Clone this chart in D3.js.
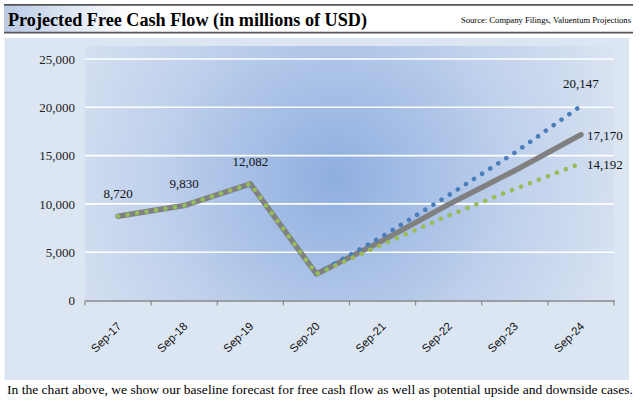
<!DOCTYPE html>
<html>
<head>
<meta charset="utf-8">
<script src="https://cdn.jsdelivr.net/npm/d3@7/dist/d3.min.js"></script>
<style>
html,body{margin:0;padding:0;background:#fff;}
svg{display:block;}
</style>
</head>
<body>
<script>
const categories = ["Sep-17","Sep-18","Sep-19","Sep-20","Sep-21","Sep-22","Sep-23","Sep-24"];
const baseCase     = [8720, 9830, 12082, 2750, 6200, 9950, 13450, 17170];
const upsideCase   = [8720, 9830, 12082, 2750, 6650, 10900, 15300, 20147];
const downsideCase = [8720, 9830, 12082, 2750, 5800, 8800, 11550, 14192];
const yTicks = [0, 5000, 10000, 15000, 20000, 25000];
const titleText = "Projected Free Cash Flow (in millions of USD)";
const sourceText = "Source: Company Filings, Valuentum Projections";
const captionText = "In the chart above, we show our baseline forecast for free cash flow as well as potential upside and downside cases.";

const W = 640, H = 403;
const svg = d3.select("body").append("svg").attr("width", W).attr("height", H);
const defs = svg.append("defs");

const tg = defs.append("linearGradient").attr("id","tg").attr("x1","0").attr("x2","1").attr("y1","0").attr("y2","0");
tg.append("stop").attr("offset","0").attr("stop-color","#b9cae4");
tg.append("stop").attr("offset","0.2").attr("stop-color","#ffffff");
tg.append("stop").attr("offset","1").attr("stop-color","#ffffff");

const rg = defs.append("radialGradient").attr("id","rg")
  .attr("gradientUnits","userSpaceOnUse").attr("cx",335).attr("cy",178).attr("r",330);
rg.append("stop").attr("offset","0").attr("stop-color","#8eaee0");
rg.append("stop").attr("offset","0.55").attr("stop-color","#c0d1ec");
rg.append("stop").attr("offset","1").attr("stop-color","#dfe7f3");

svg.append("rect").attr("x",4).attr("y",5).attr("width",629).attr("height",27).attr("fill","url(#tg)");
svg.append("line").attr("x1",4).attr("x2",633).attr("y1",4.8).attr("y2",4.8).attr("stroke","#555").attr("stroke-width",1.8);
svg.append("line").attr("x1",4).attr("x2",633).attr("y1",32.6).attr("y2",32.6).attr("stroke","#555").attr("stroke-width",1.6);
svg.append("text").attr("x",8).attr("y",26).text(titleText)
  .attr("font-family","Liberation Serif").attr("font-weight","bold").attr("font-size",18).attr("fill","#000")
  .attr("textLength",359).attr("lengthAdjust","spacingAndGlyphs");
svg.append("text").attr("x",631).attr("y",23).attr("text-anchor","end").text(sourceText)
  .attr("font-family","Liberation Serif").attr("font-size",8.6).attr("fill","#000");

svg.append("rect").attr("x",4.5).attr("y",38).attr("width",624.5).attr("height",342).attr("fill","#dce6f2");

const x = d3.scaleBand().domain(categories).range([85, 614]).padding(0);
const y = d3.scaleLinear().domain([0, 25000]).range([300.5, 59]);

svg.append("rect").attr("x",85).attr("y",46).attr("width",529).attr("height",254.5).attr("fill","url(#rg)");

svg.append("g").selectAll("line").data(yTicks.filter(d=>d>0)).join("line")
  .attr("x1",85).attr("x2",614).attr("y1",d=>y(d)).attr("y2",d=>y(d))
  .attr("stroke","#ffffff").attr("stroke-width",1.6);

const yAxis = d3.axisLeft(y).tickValues(yTicks).tickFormat(d3.format(",")).tickSize(0).tickPadding(0);
const yg = svg.append("g").attr("transform","translate(75,0)").call(yAxis);
yg.select(".domain").remove();
yg.selectAll("text").attr("font-family","Liberation Serif").attr("font-size",13).attr("fill","#222");

const xAxis = d3.axisBottom(x).tickSize(0).tickFormat("");
const xg = svg.append("g").attr("transform","translate(0,300.5)").call(xAxis);
xg.select(".domain").attr("stroke","#888").attr("stroke-width",1.3);
const bounds = categories.map(c => x(c)).concat([x(categories[categories.length-1]) + x.bandwidth()]);
svg.append("g").selectAll("line").data(bounds).join("line")
  .attr("x1",d=>d).attr("x2",d=>d).attr("y1",300.5).attr("y2",305.5)
  .attr("stroke","#888").attr("stroke-width",1.2);
svg.append("g").selectAll("text").data(categories).join("text")
  .attr("transform", d => `translate(${x(d)+x.bandwidth()/2+4},${327}) rotate(-45)`)
  .attr("text-anchor","end").text(d=>d)
  .attr("font-family","Liberation Sans").attr("font-size",11.5).attr("fill","#111");

const cx = (d,i) => x(categories[i]) + x.bandwidth()/2;
const line = d3.line().x((d,i)=>cx(d,i)).y(d=>y(d));

svg.append("path").datum(baseCase).attr("d",line).attr("fill","none")
  .attr("stroke","#808080").attr("stroke-width",5.5).attr("stroke-linejoin","round").attr("stroke-linecap","round");
svg.append("path").datum(upsideCase).attr("d",line).attr("fill","none")
  .attr("stroke","#4a7ebb").attr("stroke-width",4.6).attr("stroke-linecap","round")
  .attr("stroke-dasharray","0.01,9.6");
svg.append("path").datum(downsideCase).attr("d",line).attr("fill","none")
  .attr("stroke","#9bbb59").attr("stroke-width",4.6).attr("stroke-linecap","round")
  .attr("stroke-dasharray","0.01,9.6");

const lab = svg.append("g").attr("font-family","Liberation Serif").attr("font-size",13).attr("fill","#111");
[0,1,2].forEach(i => {
  lab.append("text").attr("x",cx(null,i)).attr("y",y(baseCase[i])-18).attr("text-anchor","middle")
    .text(d3.format(",")(baseCase[i]));
});
const L = categories.length-1;
lab.append("text").attr("x",cx(null,L)).attr("y",y(upsideCase[L])-17.5).attr("text-anchor","middle")
  .text(d3.format(",")(upsideCase[L]));
lab.append("text").attr("x",cx(null,L)+6).attr("y",y(baseCase[L])+5.5).attr("text-anchor","start")
  .text(d3.format(",")(baseCase[L]));
lab.append("text").attr("x",cx(null,L)+6).attr("y",y(downsideCase[L])+5.5).attr("text-anchor","start")
  .text(d3.format(",")(downsideCase[L]));

svg.append("text").attr("x",7).attr("y",394).text(captionText)
  .attr("font-family","Liberation Serif").attr("font-size",13.5).attr("fill","#000")
  .attr("textLength",626).attr("lengthAdjust","spacingAndGlyphs");
</script>
</body>
</html>
